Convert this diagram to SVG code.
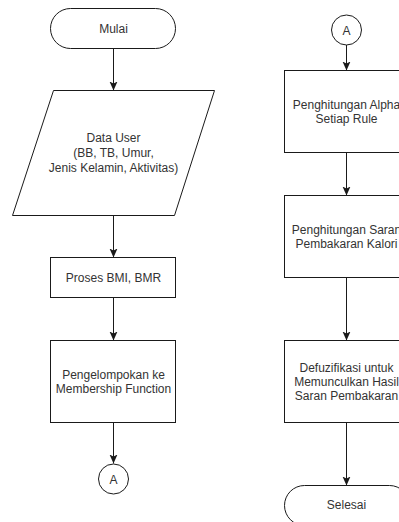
<svg xmlns="http://www.w3.org/2000/svg" width="399" height="522" viewBox="0 0 399 522">
<defs>
<style>
.n{fill:#fff;stroke:#1a1a1a;stroke-width:1}
.t{font-family:"Liberation Sans",Arial,sans-serif;font-size:12px;fill:#333;text-anchor:middle;dominant-baseline:central}
.c{fill:none;stroke:#1a1a1a;stroke-width:1}
</style>
<marker id="ah" markerUnits="userSpaceOnUse" markerWidth="10" markerHeight="10" viewBox="0 0 10 10" refX="9" refY="5" orient="auto">
<path d="M0,1 L9,5 L0,9 L2,5 Z" fill="#1a1a1a"/>
</marker>
</defs>
<rect width="399" height="522" fill="#fff"/>
<g id="connectors">
<line class="c" x1="113.5" y1="48.5" x2="113.5" y2="90.5" marker-end="url(#ah)"/>
<line class="c" x1="113.5" y1="215.5" x2="113.5" y2="257.5" marker-end="url(#ah)"/>
<line class="c" x1="113.5" y1="297.5" x2="113.5" y2="340.5" marker-end="url(#ah)"/>
<line class="c" x1="113.5" y1="422.5" x2="113.5" y2="463.5" marker-end="url(#ah)"/>
<line class="c" x1="346.5" y1="45" x2="346.5" y2="70.5" marker-end="url(#ah)"/>
<line class="c" x1="346.5" y1="152.5" x2="346.5" y2="195.5" marker-end="url(#ah)"/>
<line class="c" x1="346.5" y1="277.5" x2="346.5" y2="340.5" marker-end="url(#ah)"/>
<line class="c" x1="346.5" y1="422.5" x2="346.5" y2="485.5" marker-end="url(#ah)"/>
</g>
<g id="mulai">
<rect class="n" x="50.5" y="8.5" width="125" height="40" rx="20"/>
<text class="t" x="113.5" y="29">Mulai</text>
</g>
<g id="data-user">
<polygon class="n" points="53.5,90.5 214.5,90.5 174.5,215.5 12.5,215.5"/>
<text class="t" x="113.5" y="138">Data User</text>
<text class="t" x="113.5" y="153">(BB, TB, Umur,</text>
<text class="t" x="113.5" y="168">Jenis Kelamin, Aktivitas)</text>
</g>
<g id="proses">
<rect class="n" x="50.5" y="257.5" width="125" height="40"/>
<text class="t" x="113.5" y="278">Proses BMI, BMR</text>
</g>
<g id="pengelompokan">
<rect class="n" x="50.5" y="340.5" width="125" height="82"/>
<text class="t" x="113.5" y="374.5">Pengelompokan ke</text>
<text class="t" x="113.5" y="388.5">Membership Function</text>
</g>
<g id="conn-a-out">
<circle class="n" cx="113.5" cy="479" r="15"/>
<text class="t" x="113.5" y="479.5">A</text>
</g>
<g id="conn-a-in">
<circle class="n" cx="346.5" cy="30" r="15"/>
<text class="t" x="346.5" y="30.5">A</text>
</g>
<g id="alpha">
<rect class="n" x="284.5" y="70.5" width="125" height="82"/>
<text class="t" x="346.5" y="104.5">Penghitungan Alpha</text>
<text class="t" x="346.5" y="118.5">Setiap Rule</text>
</g>
<g id="saran">
<rect class="n" x="284.5" y="195.5" width="125" height="82"/>
<text class="t" x="346.5" y="229.5">Penghitungan Saran</text>
<text class="t" x="346.5" y="243.5">Pembakaran Kalori</text>
</g>
<g id="defuzifikasi">
<rect class="n" x="284.5" y="340.5" width="125" height="82"/>
<text class="t" x="346.5" y="367.5">Defuzifikasi untuk</text>
<text class="t" x="346.5" y="381.5">Memunculkan Hasil</text>
<text class="t" x="346.5" y="395.5">Saran Pembakaran</text>
</g>
<g id="selesai">
<rect class="n" x="284.5" y="485.5" width="125" height="40" rx="20"/>
<text class="t" x="346.5" y="505">Selesai</text>
</g>
</svg>
